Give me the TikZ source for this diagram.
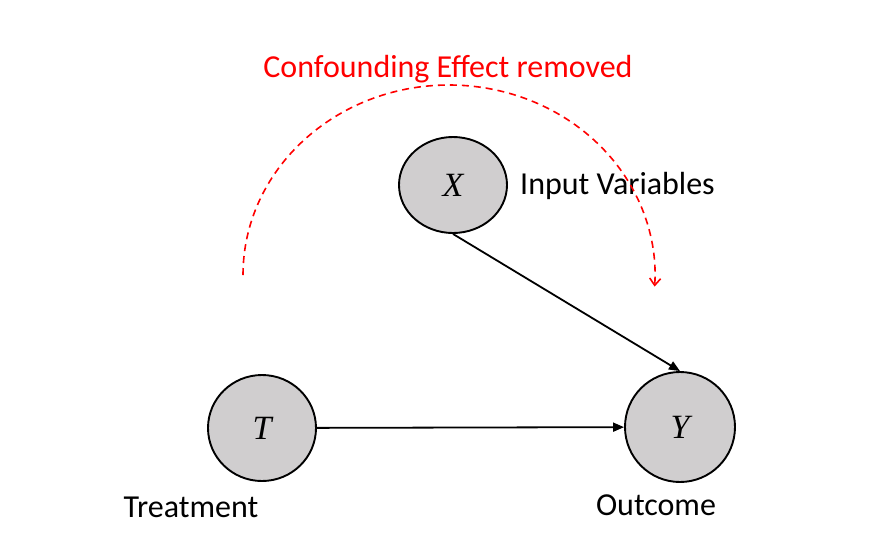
\documentclass[tikz,border=0pt]{standalone}
\usepackage{fontspec}
\setmainfont{Carlito}
\newfontfamily\varfont{Liberation Serif}
\usetikzlibrary{arrows.meta,shapes.geometric}
\definecolor{nodegray}{RGB}{208,206,207}
\definecolor{confred}{RGB}{255,0,0}
\tikzset{
  var/.style={ellipse, draw=black, line width=1.9pt, fill=nodegray, inner sep=0pt, font=\varfont\itshape\fontsize{34}{38}\selectfont},
  lbl/.style={font=\fontsize{32}{36}\selectfont, inner sep=0pt},
  edge/.style={line width=1.8pt, -{Triangle[length=11pt,width=9pt]}},
}
\begin{document}
\begin{tikzpicture}[x=1pt,y=-1pt]
\useasboundingbox (0,0) rectangle (878,558);
\node[var, minimum width=108pt, minimum height=96pt] (X) at (453,185) {X};
\node[var, minimum width=108pt, minimum height=106pt] (T) at (262,428) {T};
\node[var, minimum width=110pt, minimum height=110pt] (Y) at (680,427) {Y};
\node[lbl, anchor=west] (xl) at (520,186) {Input Variables};
\node[lbl] (tl) at (191,507) {Treatment};
\node[lbl] (yl) at (656,505) {Outcome};
\node[lbl, text=confred] (cl) at (448,69) {Confounding Effect removed};
\draw[edge] (T) -- (Y);
\draw[edge] (X.south) -- (Y.north);
\coordinate (as) at (243,275);
\draw[confred, line width=1.6pt, dash pattern=on 7pt off 5pt, -{Straight Barb[length=7pt,width=11pt]}]
  (as) arc[start angle=180, end angle=363.5, x radius=206, y radius=190];
\end{tikzpicture}
\end{document}
